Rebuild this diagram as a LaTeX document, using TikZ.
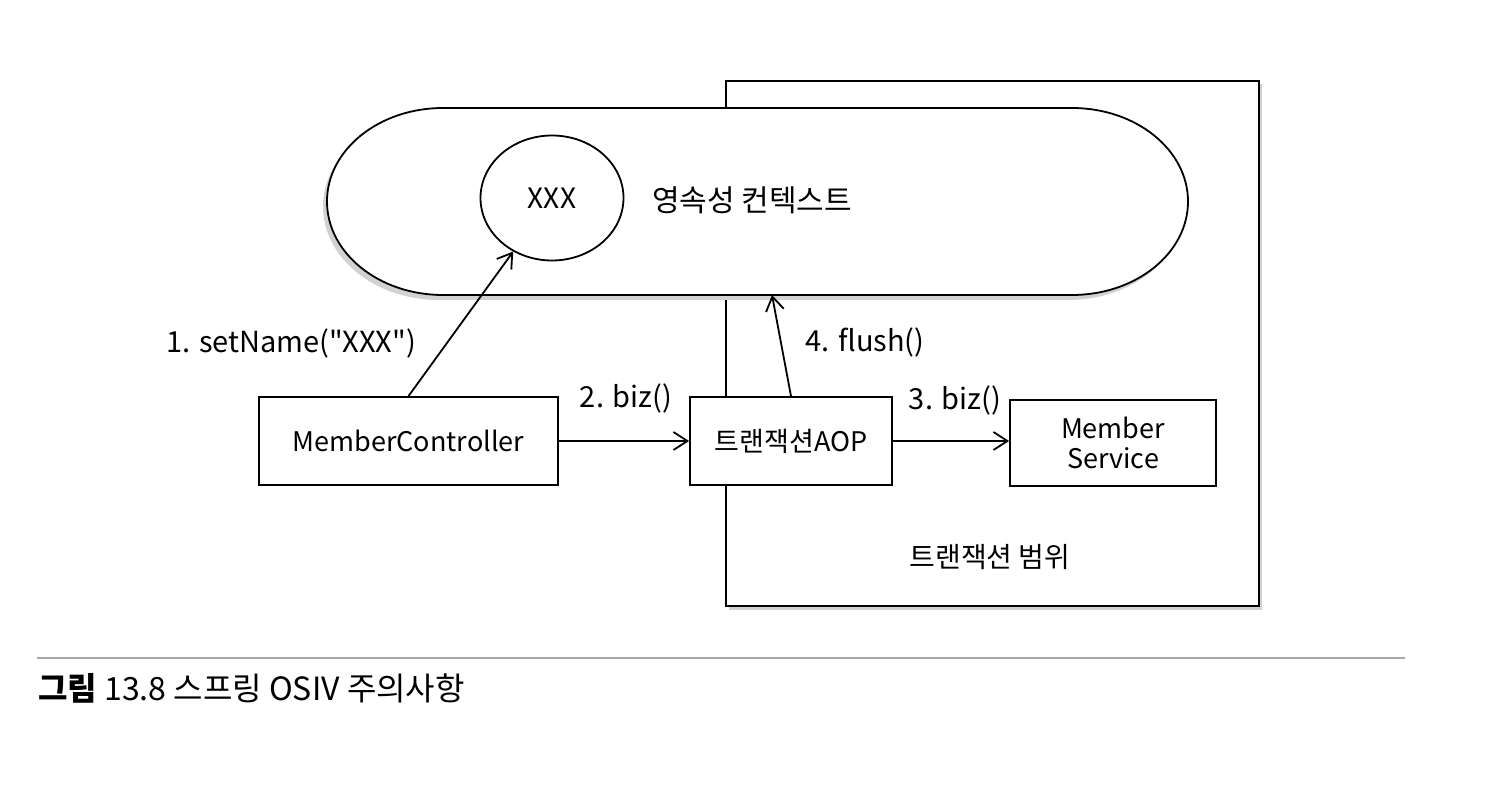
\documentclass[tikz,border=0pt]{standalone}
\usepackage{fontspec}
\setmainfont{Noto Sans CJK KR}[Ligatures=TeXOff]
\usetikzlibrary{arrows.meta,shapes.geometric}
\tikzset{
  box/.style={draw, line width=0.9pt, fill=white, inner sep=0pt, font=\fontsize{13.5}{15}\selectfont},
  lbl/.style={font=\fontsize{14.5}{16}\selectfont, inner sep=0pt},
  conn/.style={line width=0.9pt, -{Straight Barb[length=7pt,width=9pt,line width=0.9pt]}},
}
\begin{document}
\begin{tikzpicture}[x=0.5pt,y=0.5pt]
\useasboundingbox (0,0) rectangle (1494,-796);
% transaction range rectangle (with shadow)
\fill[gray!35] (729,-84) rectangle (1262,-610);
\node[draw, line width=0.9pt, fill=white, minimum width=266.5pt, minimum height=262.5pt, inner sep=0pt, anchor=north west] (txrange) at (725,-80) {};
% persistence context stadium (with shadow)
\fill[gray!35] (439,-113) -- (1068,-113) arc[start angle=90, end angle=-90, x radius=58pt, y radius=46.75pt] -- (439,-300) arc[start angle=270, end angle=90, x radius=58pt, y radius=46.75pt] -- cycle;
\draw[line width=0.9pt, fill=white] (443,-108) -- (1072,-108) arc[start angle=90, end angle=-90, x radius=58pt, y radius=46.75pt] -- (443,-295) arc[start angle=270, end angle=90, x radius=58pt, y radius=46.75pt] -- cycle;
\coordinate (ctxbottom) at (772,-295);
\node[lbl, font=\fontsize{15}{16}\selectfont] (ctx) at (752,-200) {영속성 컨텍스트};
% XXX entity
\node[draw, line width=0.9pt, ellipse, minimum width=71.5pt, minimum height=62.5pt, inner sep=0pt, font=\fontsize{14}{15}\selectfont] (xxx) at (552,-198) {XXX};
% boxes
\node[box, minimum width=149.5pt, minimum height=44pt] (mc) at (408.5,-441) {MemberController};
\node[box, minimum width=101pt, minimum height=44pt] (aop) at (791,-441) {트랜잭션AOP};
\node[box, minimum width=103pt, minimum height=43pt, align=center] (ms) at (1113,-443) {Member\\[0pt]Service};
% connectors
\draw[conn] (mc.north) -- (xxx);
\draw[conn] (mc.east) -- (aop.west |- mc.east);
\draw[conn] (aop.east) -- (ms.west |- aop.east);
\draw[conn] (aop.north) -- (ctxbottom);
% labels
\node[lbl] (l1) at (291,-343) {1. setName("XXX")};
\node[lbl] (l2) at (626,-398) {2. biz()};
\node[lbl] (l3) at (955,-400) {3. biz()};
\node[lbl] (l4) at (865,-342) {4. flush()};
\node[lbl, font=\fontsize{14}{15}\selectfont] (range) at (990,-557) {트랜잭션 범위};
% caption
\coordinate (rulel) at (37,-658);
\coordinate (ruler) at (1405,-658);
\draw[gray!70, line width=0.8pt] (rulel) -- (ruler);
\node[anchor=west, inner sep=0pt, font=\fontsize{16}{18}\selectfont] (caption) at (38,-688) {\textbf{그림} 13.8 스프링 OSIV 주의사항};
\end{tikzpicture}
\end{document}
